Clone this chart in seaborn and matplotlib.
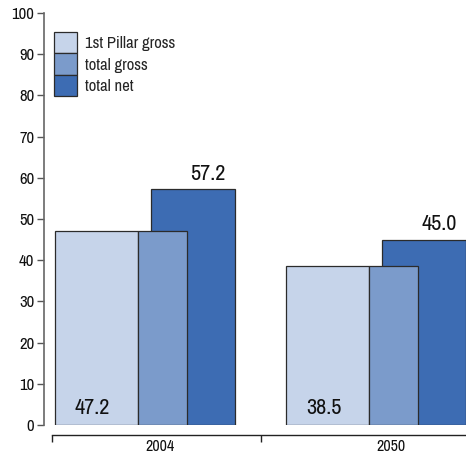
import matplotlib
matplotlib.use("Agg")
import matplotlib.pyplot as plt
from matplotlib.patches import Patch
import seaborn as sns
import pandas as pd

# Replacement rates (%) by year
categories = ["2004", "2050"]
pillar_gross = [47.2, 38.5]
total_gross = [47.2, 38.5]
total_net = [57.2, 45.0]
series_names = ["1st Pillar gross", "total gross", "total net"]
y_ticks = [0, 10, 20, 30, 40, 50, 60, 70, 80, 90, 100]

colors = {"1st Pillar gross": "#c6d4ea", "total gross": "#7b9bcb", "total net": "#3d6cb3"}
edge = "#2b2b2b"

sns.set_theme(style="white")
plt.rcParams["font.family"] = ["Archivo Narrow", "DejaVu Sans"]

fig = plt.figure(figsize=(4.66, 4.53), dpi=100)
ax = fig.add_axes([44 / 466, 28 / 453, 422 / 466, 412 / 453])

base = [0.0, 1.0]
# (offset from category centre, bar width); net drawn first so the gross bars sit on top
layout = {
    "total net": (0.143, 0.364),
    "1st Pillar gross": (-0.274, 0.359),
    "total gross": (0.011, 0.212),
}
values = {"1st Pillar gross": pillar_gross, "total gross": total_gross, "total net": total_net}

for name in ["total net", "1st Pillar gross", "total gross"]:
    off, w = layout[name]
    df = pd.DataFrame({"x": [b + off for b in base], "y": values[name]})
    sns.barplot(data=df, x="x", y="y", native_scale=True, orient="x", width=w,
                color=colors[name], saturation=1, edgecolor=edge, linewidth=0.9,
                errorbar=None, ax=ax, zorder=2)

# value labels
for b, v in zip(base, total_net):
    ax.annotate(f"{v:.1f}", xy=(b + layout["total net"][0], v), xytext=(11, 4),
                textcoords="offset points", ha="center", va="bottom", fontsize=16,
                color="#111111")
for b, v in zip(base, pillar_gross):
    ax.annotate(f"{v:.1f}", xy=(b + layout["1st Pillar gross"][0], 0), xytext=(-3, 5),
                textcoords="offset points", ha="center", va="bottom", fontsize=16,
                color="#111111")

ax.set_xlim(-0.502, 1.325)
ax.set_ylim(0, 100)
ax.set_xlabel("")
ax.set_ylabel("")

# y axis
ax.set_yticks(y_ticks)
ax.set_yticklabels([str(t) for t in y_ticks])
ax.tick_params(axis="y", which="major", left=True, length=5, width=1, color="#555555",
               pad=2, labelsize=12, labelcolor="#111111")

# x axis: category labels between separator ticks, spine dropped below the bars
ax.set_xticks(base)
ax.set_xticklabels(categories)
ax.set_xticks([-0.468, 0.437], minor=True)
ax.tick_params(axis="x", which="major", bottom=True, length=0, pad=3, labelsize=11.5,
               labelcolor="#111111")
ax.tick_params(axis="x", which="minor", bottom=True, length=5, width=1, color="#222222")

for s in ["top", "right"]:
    ax.spines[s].set_visible(False)
ax.spines["left"].set_color("#666666")
ax.spines["left"].set_linewidth(1.2)
ax.spines["bottom"].set_position(("outward", 7))
ax.spines["bottom"].set_bounds(-0.468, 1.325)
ax.spines["bottom"].set_color("#222222")
ax.spines["bottom"].set_linewidth(1)

handles = [Patch(facecolor=colors[n], edgecolor=edge, linewidth=0.9, label=n) for n in series_names]
ax.legend(handles=handles, loc="upper left", bbox_to_anchor=(0.0237, 0.954), frameon=False,
          borderaxespad=0, borderpad=0, labelspacing=0, handlelength=1.38, handleheight=1.607,
          handletextpad=0.48, fontsize=12)

fig.savefig("out.png", dpi=100)
